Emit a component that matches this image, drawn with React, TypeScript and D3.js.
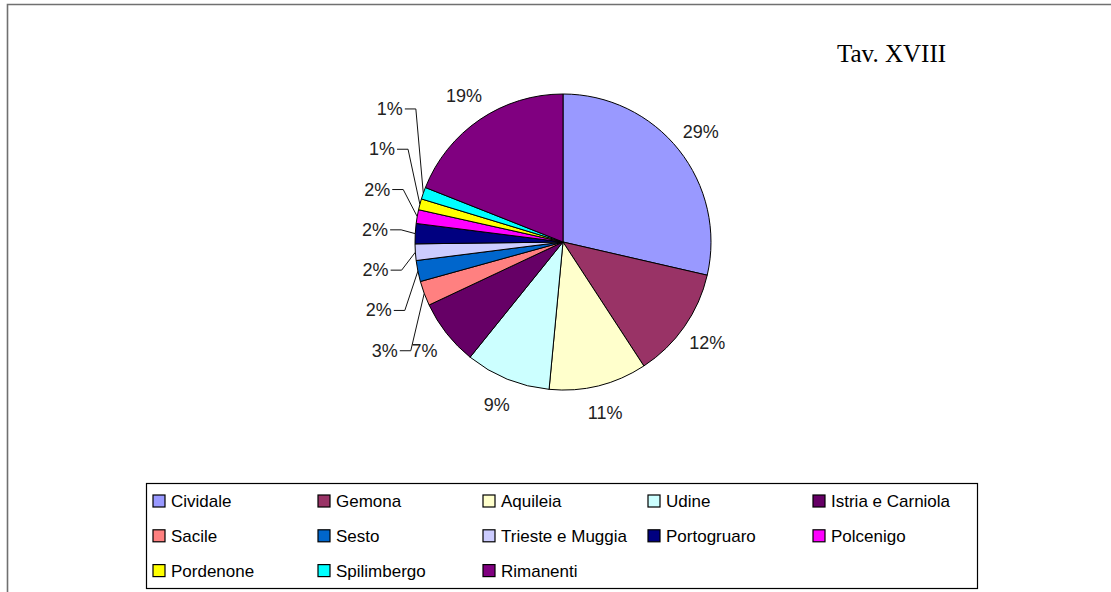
import React from "react";
import * as d3 from "d3";

const categories = [
  "Cividale", "Gemona", "Aquileia", "Udine", "Istria e Carniola", "Sacile", "Sesto",
  "Trieste e Muggia", "Portogruaro", "Polcenigo", "Pordenone", "Spilimbergo", "Rimanenti",
];
const values = [28.6, 12.2, 10.7, 9.3, 7.2, 2.7, 2.3, 1.8, 2.2, 1.5, 1.2, 1.3, 19.0];
const colors = [
  "#9999FF", "#993366", "#FFFFCC", "#CCFFFF", "#660066", "#FF8080", "#0066CC",
  "#CCCCFF", "#000080", "#FF00FF", "#FFFF00", "#00FFFF", "#800080",
];
// indices of slices labelled on the left with leader lines
const leaderSlices = [5, 6, 7, 8, 9, 10, 11];
const title = "Tav. XVIII";

const W = 1111, H = 592;
const cx = 563, cy = 242, R = 148;
const labelR = 176;

export default function App() {
  const total = d3.sum(values);
  const pie = d3.pie<number>().sort(null).value((d) => d);
  const arcs = pie(values);
  const arcGen = d3.arc<d3.PieArcDatum<number>>().innerRadius(0).outerRadius(R);
  const fmt = (v: number) => `${Math.round((v / total) * 100)}%`;
  const mid = (a: d3.PieArcDatum<number>) => (a.startAngle + a.endAngle) / 2;

  // legend layout
  const legCols = 5;
  const legX0 = 153, legDX = 165, legY0 = 501, legDY = 34.8;

  // leader-label layout: first leader label aligned with Istria label row
  const istria = arcs[4];
  const baseY = cy - labelR * Math.cos(mid(istria));
  const stepY = 40.3;

  return (
    <svg width={W} height={H} style={{ position: "absolute", left: 0, top: 0, background: "#fff" }}
      fontFamily="'Liberation Sans', Arial, sans-serif">
      <rect x={0} y={0} width={W} height={H} fill="#fff" />
      <path d={`M7.5,${H} L7.5,4.5 L${W},4.5`} fill="none" stroke="#707070" strokeWidth={1.6} />
      <text x={837} y={62} fontFamily="'Liberation Serif', 'Times New Roman', serif" fontSize={25} fill="#000">
        {title}
      </text>

      <g transform={`translate(${cx},${cy})`}>
        {arcs.map((a, i) => (
          <path key={i} d={arcGen(a) || ""} fill={colors[i]} stroke="#000" strokeWidth={1} strokeLinejoin="round" />
        ))}
      </g>

      {arcs.map((a, i) => {
        if (leaderSlices.includes(i)) return null;
        const m = mid(a);
        const x = cx + labelR * Math.sin(m);
        const y = cy - labelR * Math.cos(m);
        return (
          <text key={"l" + i} x={x} y={y} textAnchor="middle" dominantBaseline="central" fontSize={18} fill="#222">
            {fmt(values[i])}
          </text>
        );
      })}

      {leaderSlices.map((si, k) => {
        const a = arcs[si];
        const m = mid(a);
        const ex = cx + R * Math.sin(m);
        const ey = cy - R * Math.cos(m);
        const ly = baseY - stepY * k;
        const dy = ly - cy;
        const xr = cx - 175 * Math.sqrt(Math.max(0, 1 - (dy / 330) ** 2));
        const elbowX = Math.min(xr + 13, ex);
        return (
          <g key={"ll" + si}>
            <text x={xr} y={ly} textAnchor="end" dominantBaseline="central" fontSize={18} fill="#222">
              {fmt(values[si])}
            </text>
            <polyline points={`${xr + 2},${ly} ${elbowX},${ly} ${ex},${ey}`} fill="none" stroke="#111" strokeWidth={1} />
          </g>
        );
      })}

      <rect x={146.5} y={483.5} width={831} height={105} fill="#fff" stroke="#000" strokeWidth={1.2} />
      {categories.map((c, i) => {
        const col = i % legCols;
        const row = Math.floor(i / legCols);
        const x = legX0 + col * legDX;
        const y = legY0 + row * legDY;
        return (
          <g key={"lg" + i}>
            <rect x={x} y={y - 6} width={12} height={12} fill={colors[i]} stroke="#000" strokeWidth={1.2} />
            <text x={x + 18} y={y + 6} fontSize={17} fill="#000">{c}</text>
          </g>
        );
      })}
    </svg>
  );
}
